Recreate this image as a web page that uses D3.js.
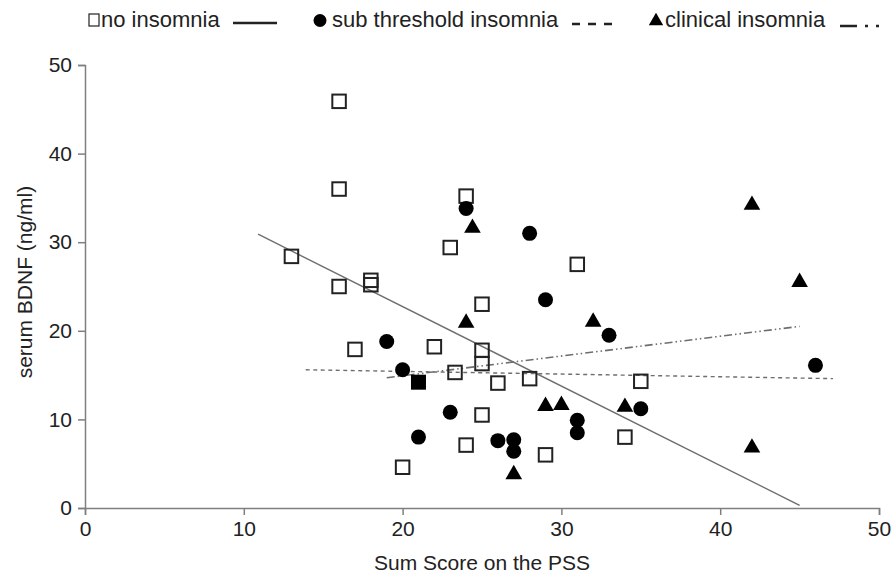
<!DOCTYPE html>
<html>
<head>
<meta charset="utf-8">
<script src="https://cdn.jsdelivr.net/npm/d3@7"></script>
<style>
  body { margin: 0; background: #fff; }
  text { font-family: "Liberation Sans", Arial, sans-serif; fill: #222; }
</style>
</head>
<body>
<div id="chart-area"></div>
<script>
// PSS sum score vs serum BDNF, three insomnia groups

// no insomnia [pss, bdnf]
var noInsomnia = [
    [16, 45.9], [16, 36], [13, 28.4], [16, 25], [18, 25.7], [18, 25.2],
    [17, 17.9], [22, 18.2], [23, 29.4], [24, 35.2], [25, 23], [31, 27.5],
    [25, 17.8], [25, 16.3], [23.3, 15.3], [26, 14.1], [28, 14.6], [35, 14.3],
    [25, 10.5], [24, 7.1], [29, 6], [34, 8], [20, 4.6]
];
// sub threshold insomnia
var subThreshold = [
    [24, 33.8], [28, 31], [29, 23.5], [33, 19.5], [19, 18.8], [20, 15.6],
    [23, 10.8], [21, 8], [26, 7.6], [27, 7.7], [27, 6.4], [31, 9.9],
    [31, 8.5], [35, 11.2], [46, 16.1]
];
// clinical insomnia
var clinical = [
    [24.4, 31.6], [24, 20.9], [32, 21], [29, 11.5], [30, 11.6], [34, 11.4],
    [27, 3.8], [42, 34.2], [45, 25.5], [42, 6.8]
];
// the one solid square in the plot
var filledSquare = [[21, 14.2]];

// linear trend lines, start and end point
var trendNo = [[10.9, 30.9], [45, 0.3]];
var trendSub = [[13.9, 15.6], [47.1, 14.6]];
var trendClin = [[19, 14.7], [45, 20.5]];

var xTicks = [0, 10, 20, 30, 40, 50];
var yTicks = [0, 10, 20, 30, 40, 50];

var legendLabels = ["no insomnia", "sub threshold insomnia", "clinical insomnia"];

var width = 891, height = 576;

var svg = d3.select("#chart-area")
    .append("svg")
    .attr("width", width)
    .attr("height", height);

// Scales
var x = d3.scaleLinear()
    .domain([0, 50])
    .range([85, 879]);
var y = d3.scaleLinear()
    .domain([0, 50])
    .range([508, 65]);

var axisColor = "#7f7f7f";
var lineColor = "#6e6e6e";

// X Axis
var xAxisCall = d3.axisBottom(x)
    .tickValues(xTicks)
    .tickSize(7)
    .tickPadding(6)
    .tickFormat(d3.format("d"));
var xAxis = svg.append("g")
    .attr("transform", "translate(0," + y(0) + ")")
    .call(xAxisCall);

// Y Axis
var yAxisCall = d3.axisLeft(y)
    .tickValues(yTicks)
    .tickSize(7)
    .tickPadding(6)
    .tickFormat(d3.format("d"));
var yAxis = svg.append("g")
    .attr("transform", "translate(" + x(0) + ",0)")
    .call(yAxisCall);

[xAxis, yAxis].forEach(function(a){
    a.select(".domain").attr("stroke", axisColor).attr("stroke-width", 1.5);
    a.selectAll(".tick line").attr("stroke", axisColor).attr("stroke-width", 1.5);
    a.selectAll(".tick text")
        .attr("font-size", "21px")
        .attr("font-family", "Liberation Sans, Arial, sans-serif")
        .attr("fill", "#222");
});

// Labels
svg.append("text")
    .attr("x", x(25))
    .attr("y", 570)
    .attr("font-size", "21px")
    .attr("text-anchor", "middle")
    .text("Sum Score on the PSS");
svg.append("text")
    .attr("transform", "rotate(-90)")
    .attr("x", -y(25.5))
    .attr("y", 32)
    .attr("font-size", "21px")
    .attr("text-anchor", "middle")
    .text("serum BDNF (ng/ml)");

// Trend lines
var line = d3.line()
    .x(function(d){ return x(d[0]); })
    .y(function(d){ return y(d[1]); });

svg.append("path")
    .datum(trendNo)
    .attr("d", line)
    .attr("fill", "none")
    .attr("stroke", lineColor)
    .attr("stroke-width", 1.4);
svg.append("path")
    .datum(trendSub)
    .attr("d", line)
    .attr("fill", "none")
    .attr("stroke", lineColor)
    .attr("stroke-width", 1.4)
    .attr("stroke-dasharray", "4,3.5");
svg.append("path")
    .datum(trendClin)
    .attr("d", line)
    .attr("fill", "none")
    .attr("stroke", lineColor)
    .attr("stroke-width", 1.6)
    .attr("stroke-dasharray", "8,3,1.5,3,1.5,3");

// Points
var sq = 13.5;
svg.selectAll(".noins")
    .data(noInsomnia)
    .enter()
    .append("rect")
    .attr("class", "noins")
    .attr("x", function(d){ return x(d[0]) - sq / 2; })
    .attr("y", function(d){ return y(d[1]) - sq / 2; })
    .attr("width", sq)
    .attr("height", sq)
    .attr("fill", "none")
    .attr("stroke", "#222")
    .attr("stroke-width", 2);

svg.selectAll(".filled")
    .data(filledSquare)
    .enter()
    .append("rect")
    .attr("class", "filled")
    .attr("x", function(d){ return x(d[0]) - 7.5; })
    .attr("y", function(d){ return y(d[1]) - 7.5; })
    .attr("width", 15)
    .attr("height", 15)
    .attr("fill", "#000");

svg.selectAll(".sub")
    .data(subThreshold)
    .enter()
    .append("circle")
    .attr("class", "sub")
    .attr("cx", function(d){ return x(d[0]); })
    .attr("cy", function(d){ return y(d[1]); })
    .attr("r", 7.5)
    .attr("fill", "#000");

var tri = d3.symbol().type(d3.symbolTriangle).size(120);
svg.selectAll(".clin")
    .data(clinical)
    .enter()
    .append("path")
    .attr("class", "clin")
    .attr("d", tri)
    .attr("transform", function(d){ return "translate(" + x(d[0]) + "," + y(d[1]) + ")"; })
    .attr("fill", "#000");

// Legend
var legend = svg.append("g");
// no insomnia
legend.append("rect")
    .attr("x", 89).attr("y", 14).attr("width", 10).attr("height", 12)
    .attr("fill", "none").attr("stroke", "#222").attr("stroke-width", 1.2);
legend.append("text")
    .attr("x", 101).attr("y", 27)
    .attr("font-size", "22px")
    .text(legendLabels[0]);
legend.append("line")
    .attr("x1", 233).attr("x2", 277).attr("y1", 23).attr("y2", 23)
    .attr("stroke", "#222").attr("stroke-width", 2.5);
// sub threshold
legend.append("circle")
    .attr("cx", 320).attr("cy", 20.5).attr("r", 6.5)
    .attr("fill", "#000");
legend.append("text")
    .attr("x", 332).attr("y", 27)
    .attr("font-size", "22px")
    .text(legendLabels[1]);
legend.append("line")
    .attr("x1", 572).attr("x2", 616).attr("y1", 24).attr("y2", 24)
    .attr("stroke", "#222").attr("stroke-width", 2.5)
    .attr("stroke-dasharray", "8,8");
// clinical
legend.append("path")
    .attr("d", d3.symbol().type(d3.symbolTriangle).size(90))
    .attr("transform", "translate(656,21)")
    .attr("fill", "#000");
legend.append("text")
    .attr("x", 665).attr("y", 27)
    .attr("font-size", "22px")
    .text(legendLabels[2]);
legend.append("line")
    .attr("x1", 840).attr("x2", 884).attr("y1", 26).attr("y2", 26)
    .attr("stroke", "#222").attr("stroke-width", 2.5)
    .attr("stroke-dasharray", "17,8,3,8,3,8");
</script>
</body>
</html>
